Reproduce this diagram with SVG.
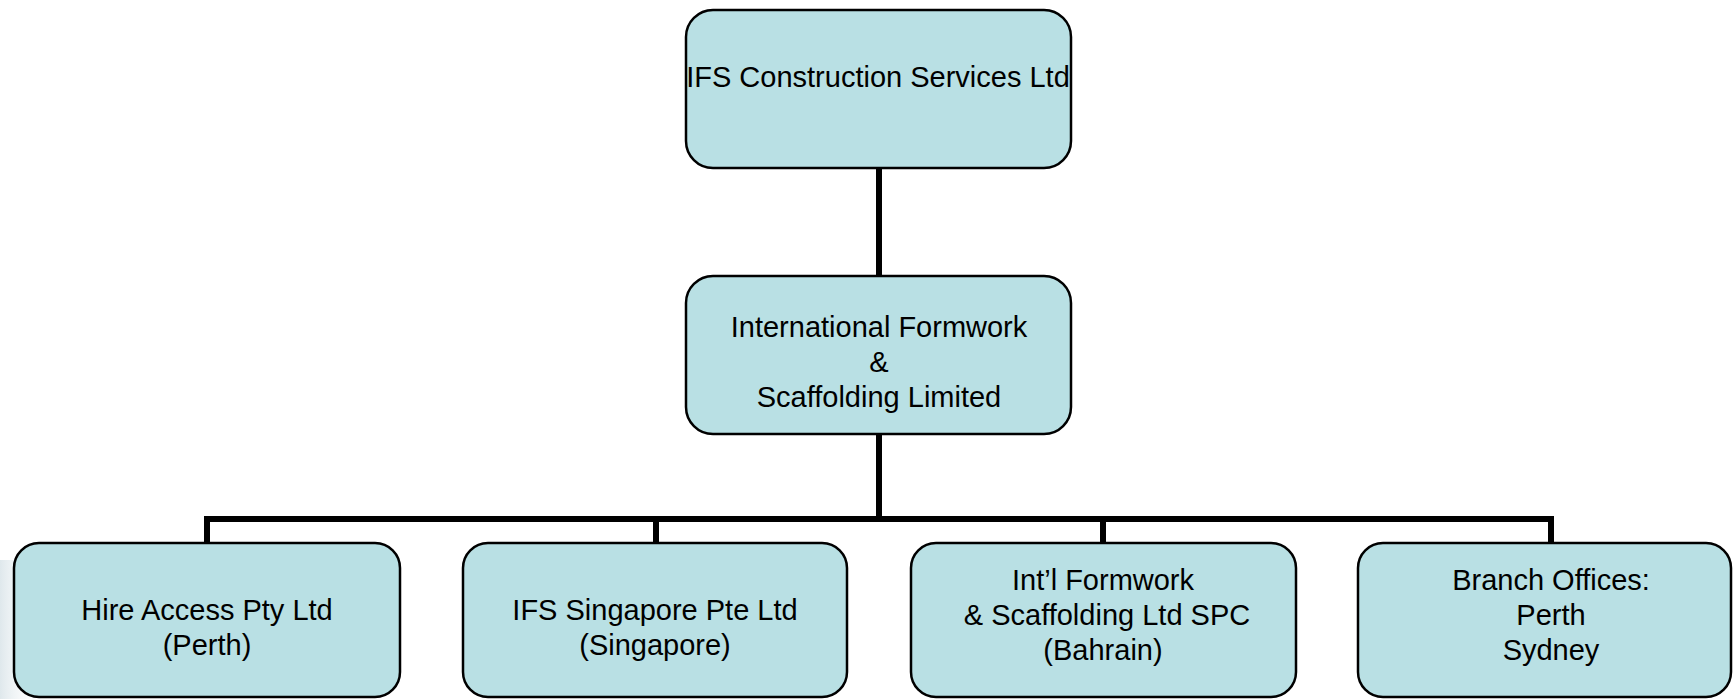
<svg xmlns="http://www.w3.org/2000/svg" width="1733" height="699" viewBox="0 0 1733 699">
  <style>
    .box { fill: #B9E0E4; stroke: #000; stroke-width: 2.5; }
    .lbl { font-family: "Liberation Sans", Arial, sans-serif; font-size: 29px; fill: #000; text-anchor: middle; }
    .conn { stroke: #000; stroke-width: 6; fill: none; stroke-linecap: butt; stroke-linejoin: miter; }
  </style>
  <defs>
    <linearGradient id="bg" x1="0" y1="0" x2="1" y2="0">
      <stop offset="0" stop-color="#dfe8ec"/>
      <stop offset="1" stop-color="#ffffff" stop-opacity="0"/>
    </linearGradient>
  </defs>
  <rect width="1733" height="699" fill="#fff"/>
  <rect x="0" y="560" width="45" height="139" fill="url(#bg)"/>
  <g id="connectors">
    <path class="conn" d="M879 168 V276"/>
    <path class="conn" d="M879 434 V519"/>
    <path class="conn" d="M207 543 V519 H1551 V543"/>
    <path class="conn" d="M656 519 V543"/>
    <path class="conn" d="M1103 519 V543"/>
  </g>
  <g id="n-ifs-construction">
    <rect class="box" x="686" y="10" width="385" height="158" rx="27"/>
    <text class="lbl" x="878" y="87">IFS Construction Services Ltd</text>
  </g>
  <g id="n-international-formwork">
    <rect class="box" x="686" y="276" width="385" height="158" rx="27"/>
    <text class="lbl" x="879" y="337">International Formwork</text>
    <text class="lbl" x="879" y="372">&amp;</text>
    <text class="lbl" x="879" y="407">Scaffolding Limited</text>
  </g>
  <g id="n-hire-access">
    <rect class="box" x="14" y="543" width="386" height="154" rx="25"/>
    <text class="lbl" x="207" y="620">Hire Access Pty Ltd</text>
    <text class="lbl" x="207" y="655">(Perth)</text>
  </g>
  <g id="n-ifs-singapore">
    <rect class="box" x="463" y="543" width="384" height="154" rx="25"/>
    <text class="lbl" x="655" y="620">IFS Singapore Pte Ltd</text>
    <text class="lbl" x="655" y="655">(Singapore)</text>
  </g>
  <g id="n-intl-bahrain">
    <rect class="box" x="911" y="543" width="385" height="154" rx="25"/>
    <text class="lbl" x="1103" y="590">Int’l Formwork</text>
    <text class="lbl" x="1107" y="625">&amp; Scaffolding Ltd SPC</text>
    <text class="lbl" x="1103" y="660">(Bahrain)</text>
  </g>
  <g id="n-branch-offices">
    <rect class="box" x="1358" y="543" width="373" height="154" rx="25"/>
    <text class="lbl" x="1551" y="590">Branch Offices:</text>
    <text class="lbl" x="1551" y="625">Perth</text>
    <text class="lbl" x="1551" y="660">Sydney</text>
  </g>
</svg>
